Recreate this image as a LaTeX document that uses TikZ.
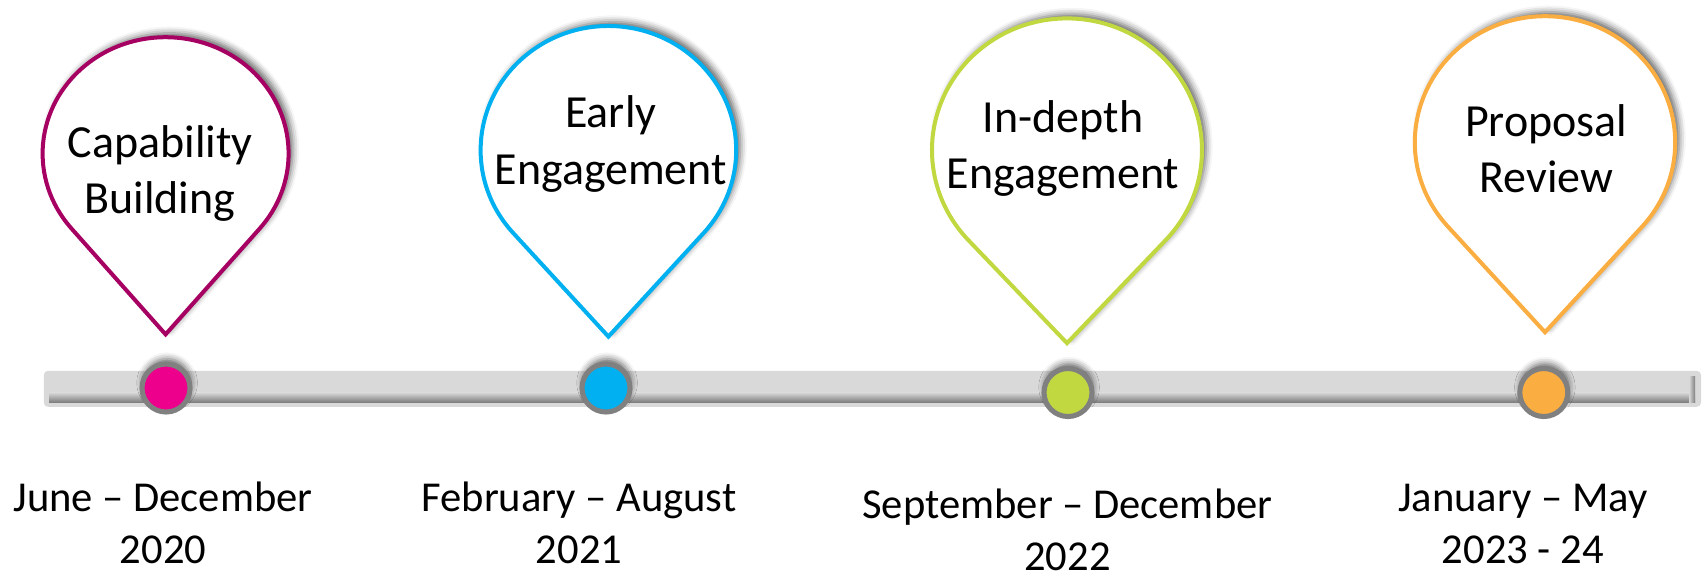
\documentclass[tikz,border=0pt]{standalone}
\usepackage{fontspec}
\setmainfont{Carlito}
\usepackage{xcolor}
\usepackage{tikz}
\usetikzlibrary{calc,shadows.blur}

\definecolor{capmag}{RGB}{166,0,98}
\definecolor{capdot}{RGB}{236,0,140}
\definecolor{earlyblue}{RGB}{0,176,240}
\definecolor{deepgreen}{RGB}{194,216,64}
\definecolor{revorange}{RGB}{250,173,64}

\tikzset{
  pinshape/.style={draw=#1,line width=1.9pt,fill=white,miter limit=4,
    blur shadow={shadow xshift=2pt,shadow yshift=2pt,shadow blur radius=3pt,shadow opacity=60}},
  stagedot/.style={circle,draw=black!50,line width=2.4pt,fill=#1,minimum size=0.8cm,inner sep=0pt,
    blur shadow={shadow xshift=0.5pt,shadow yshift=2.5pt,shadow blur radius=3pt,shadow opacity=60}},
  stagetext/.style={align=center,anchor=base,inner sep=0pt,font=\fontsize{21.8}{26.8}\selectfont},
  period/.style={align=center,anchor=base,inner sep=0pt,font=\fontsize{20.2}{24.5}\selectfont}
}

\begin{document}
\begin{tikzpicture}
\useasboundingbox (0,0) rectangle (28.4,9.55);

% timeline bar with its inner shadow
\fill[black!15,rounded corners=2pt] (0.73,2.77) rectangle (28.35,3.37);
\shade[top color=black!15,bottom color=black!50] (0.82,2.85) rectangle (28.25,3.01);
\shade[left color=black!15,right color=black!50] (28.15,2.85) rectangle (28.25,3.27);

% pins: arc over the top, straight sides down to the tip
\draw[pinshape=capmag] (2.76,6.99) ++(220.08:2.05 and 1.94)
  arc[start angle=220.08,end angle=-40.08,x radius=2.05,y radius=1.94] -- (2.76,3.977) -- cycle;
\draw[pinshape=earlyblue] (10.14,7.047) ++(221.77:2.13 and 2.07)
  arc[start angle=221.77,end angle=-41.77,x radius=2.13,y radius=2.07] -- (10.14,3.94) -- cycle;
\draw[pinshape=deepgreen] (17.783,7.047) ++(223.06:2.25 and 2.196)
  arc[start angle=223.06,end angle=-43.06,x radius=2.25,y radius=2.196] -- (17.783,3.831) -- cycle;
\draw[pinshape=revorange] (25.75,7.175) ++(221.74:2.17 and 2.105)
  arc[start angle=221.74,end angle=-41.74,x radius=2.17,y radius=2.105] -- (25.75,4.013) -- cycle;

% base anchor sits on the second line
\node[stagetext] (cap) at (2.667,5.987) {Capability\\Building};
\node[stagetext] (early) at (10.18,6.48) {Early\\Engagement};
\node[stagetext] (depth) at (17.717,6.407) {In-depth\\Engagement};
\node[stagetext] (review) at (25.77,6.334) {Proposal\\Review};

% dots on the bar
\node[stagedot=capdot] (d1) at (2.767,3.083) {};
\node[stagedot=earlyblue] (d2) at (10.1,3.083) {};
\node[stagedot=deepgreen] (d3) at (17.8,3.008) {};
\node[stagedot=revorange] (d4) at (25.73,3.008) {};

% dates under the bar
\node[period] (p1) at (2.717,0.16) {June – December\\2020};
\node[period] (p2) at (9.65,0.16) {February – August\\2021};
\node[period] (p3) at (17.79,0.05) {September – December\\2022};
\node[period] (p4) at (25.38,0.16) {January – May\\2023 - 24};
\end{tikzpicture}
\end{document}
